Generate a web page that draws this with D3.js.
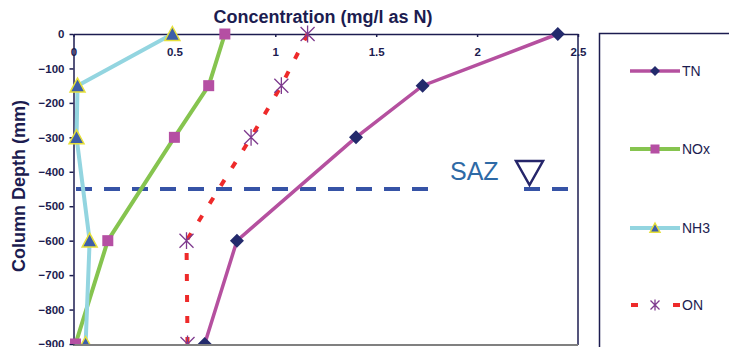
<!DOCTYPE html>
<html lang="en">
<head>
  <meta charset="UTF-8">
  <title>Concentration vs column depth</title>
  <script src="https://cdn.jsdelivr.net/npm/d3@7"></script>
  <style>
    body { margin: 0; background: #fff; }
    text { font-family: "Liberation Sans", Arial, sans-serif; }
  </style>
</head>
<body>
<script>
  // data
  var depths = [0, -150, -300, -600, -900];
  var tnValues = [2.4, 1.73, 1.4, 0.81, 0.65];
  var noxValues = [0.75, 0.67, 0.5, 0.17, 0.01];
  var nh3Values = [0.49, 0.02, 0.015, 0.08, 0.06];
  var onValues = [1.16, 1.03, 0.88, 0.56, 0.565];
  var seriesNames = ["TN", "NOx", "NH3", "ON"];
  var xTicks = [0, 0.5, 1, 1.5, 2, 2.5];
  var yTicks = [0, -100, -200, -300, -400, -500, -600, -700, -800, -900];
  var sazDepth = -450;

  var navy = "#1c1c50";
  var width = 729, height = 347;

  var svg = d3.select("body").append("svg")
    .attr("width", width)
    .attr("height", height);

  var x = d3.scaleLinear().domain([0, 2.5]).range([73.5, 578]);
  var y = d3.scaleLinear().domain([0, -900]).range([34, 344]);

  // clip so markers at the bottom are cut at the plot edge
  svg.append("clipPath").attr("id", "plotClip")
    .append("rect").attr("x", 0).attr("y", 0).attr("width", 600).attr("height", 344);

  // plot frame: right + bottom
  svg.append("line").attr("x1", 578).attr("x2", 578).attr("y1", 34).attr("y2", 345)
    .attr("stroke", navy).attr("stroke-width", 1.5);
  svg.append("line").attr("x1", 73).attr("x2", 578).attr("y1", 345).attr("y2", 345)
    .attr("stroke", "#808080").attr("stroke-width", 2);

  // SAZ dashed level
  svg.append("line")
    .attr("x1", 76).attr("x2", 568)
    .attr("y1", y(sazDepth)).attr("y2", y(sazDepth))
    .attr("stroke", "#3653a6").attr("stroke-width", 4)
    .attr("stroke-dasharray", "16,12");
  svg.append("rect").attr("x", 430).attr("y", y(sazDepth) - 30)
    .attr("width", 92).attr("height", 36).attr("fill", "#fff");
  svg.append("text").attr("x", 450).attr("y", 180)
    .attr("font-size", 25).attr("fill", "#2e6aa6").text("SAZ");
  svg.append("path")
    .attr("d", "M516,161 L543,161 L529.5,185 Z")
    .attr("fill", "none").attr("stroke", "#25256a").attr("stroke-width", 2.5);

  // axes
  var xAxis = svg.append("g")
    .attr("transform", "translate(0," + y(0) + ")")
    .call(d3.axisBottom(x).tickValues(xTicks).tickSize(3).tickSizeOuter(0)
      .tickFormat(d3.format("")));
  xAxis.selectAll("text").attr("y", 14).attr("font-size", 11.5)
    .attr("font-weight", "bold").attr("fill", navy);

  var yAxis = svg.append("g")
    .attr("transform", "translate(" + x(0) + ",0)")
    .call(d3.axisLeft(y).tickValues(yTicks).tickSize(4).tickSizeOuter(0).tickPadding(5));
  yAxis.selectAll("text").attr("font-size", 11.5)
    .attr("font-weight", "bold").attr("fill", navy);

  svg.selectAll(".domain, .tick line").attr("stroke", navy).attr("stroke-width", 1.5);

  // titles
  svg.append("text").attr("x", 323).attr("y", 23).attr("text-anchor", "middle")
    .attr("font-size", 18).attr("font-weight", "bold").attr("fill", navy)
    .text("Concentration (mg/l as N)");
  svg.append("text")
    .attr("transform", "translate(25,186) rotate(-90)")
    .attr("text-anchor", "middle")
    .attr("font-size", 18).attr("font-weight", "bold").attr("fill", navy)
    .text("Column Depth (mm)");

  // marker drawers
  function diamond(g, cx, cy, r) {
    g.append("path").attr("d", "M" + cx + "," + (cy - r) + " L" + (cx + r) + "," + cy +
      " L" + cx + "," + (cy + r) + " L" + (cx - r) + "," + cy + " Z").attr("fill", "#232a6c");
  }
  function square(g, cx, cy, r) {
    g.append("rect").attr("x", cx - r).attr("y", cy - r).attr("width", 2 * r).attr("height", 2 * r)
      .attr("fill", "#b54fa3");
  }
  function triangle(g, cx, cy, r) {
    g.append("path").attr("d", "M" + cx + "," + (cy - r) + " L" + (cx + r) + "," + (cy + r * 0.85) +
      " L" + (cx - r) + "," + (cy + r * 0.85) + " Z")
      .attr("fill", "#3d5ea9").attr("stroke", "#e6e03a").attr("stroke-width", 1.5);
  }
  function star(g, cx, cy, r) {
    g.append("path").attr("d",
      "M" + (cx - r) + "," + (cy - r) + " L" + (cx + r) + "," + (cy + r) +
      " M" + (cx + r) + "," + (cy - r) + " L" + (cx - r) + "," + (cy + r) +
      " M" + cx + "," + (cy - r * 1.2) + " L" + cx + "," + (cy + r * 1.2))
      .attr("fill", "none").attr("stroke", "#7e3a8e").attr("stroke-width", 1.3);
  }

  var series = [
    { name: "TN", values: tnValues, color: "#b5509f", width: 3.5, dash: null, marker: diamond, size: 7, legSize: 5 },
    { name: "NOx", values: noxValues, color: "#86c44f", width: 4, dash: null, marker: square, size: 5.5, legSize: 4.5 },
    { name: "NH3", values: nh3Values, color: "#93d5e0", width: 4, dash: null, marker: triangle, size: 7.5, legSize: 5 },
    { name: "ON", values: onValues, color: "#ee2a2a", width: 4, dash: "7,14", marker: star, size: 7, legSize: 4.5 }
  ];

  var line = d3.line()
    .x(function(d) { return x(d[0]); })
    .y(function(d) { return y(d[1]); });

  var plot = svg.append("g").attr("clip-path", "url(#plotClip)");

  series.forEach(function(s) {
    var pts = s.values.map(function(v, i) { return [v, depths[i]]; });
    var g = plot.append("g");
    g.append("path").datum(pts).attr("d", line)
      .attr("fill", "none").attr("stroke", s.color).attr("stroke-width", s.width)
      .attr("stroke-dasharray", s.dash);
    pts.forEach(function(p) { s.marker(g, x(p[0]), y(p[1]), s.size); });
  });

  // legend
  svg.append("rect").attr("x", 599.5).attr("y", 33.5).attr("width", 200).attr("height", 400)
    .attr("fill", "none").attr("stroke", navy).attr("stroke-width", 1.5);
  var legendY = [71, 149, 228, 305];
  series.forEach(function(s, i) {
    var g = svg.append("g");
    var ly = legendY[i];
    if (s.dash) {
      g.append("line").attr("x1", 631).attr("x2", 638).attr("y1", ly).attr("y2", ly)
        .attr("stroke", s.color).attr("stroke-width", s.width);
      g.append("line").attr("x1", 673).attr("x2", 680).attr("y1", ly).attr("y2", ly)
        .attr("stroke", s.color).attr("stroke-width", s.width);
    } else {
      g.append("line").attr("x1", 630).attr("x2", 680).attr("y1", ly).attr("y2", ly)
        .attr("stroke", s.color).attr("stroke-width", s.width);
    }
    s.marker(g, 655, ly, s.legSize);
    g.append("text").attr("x", 682).attr("y", ly + 5)
      .attr("font-size", 14).attr("fill", navy).text(seriesNames[i]);
  });
</script>
</body>
</html>
